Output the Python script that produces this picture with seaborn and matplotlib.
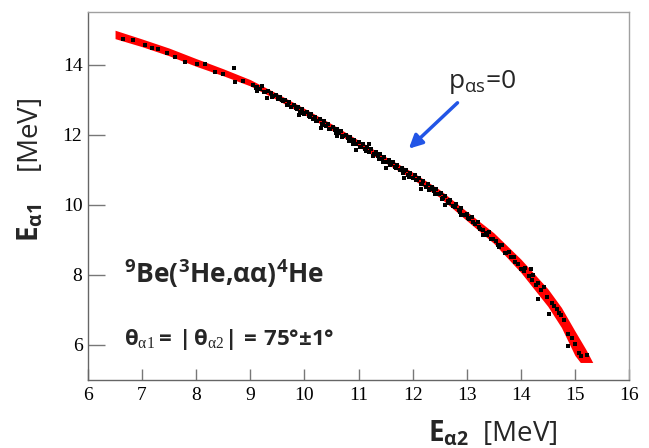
import numpy as np
import matplotlib
matplotlib.use("Agg")
import matplotlib.pyplot as plt
from matplotlib.ticker import MultipleLocator
import seaborn as sns

# simulated kinematic band (red): E_alpha2 grid with upper / lower edge of E_alpha1
band_e2 = [6.5, 7.0, 7.5, 8.0, 8.5, 9.0, 9.5, 10.0, 10.5, 11.0, 11.5, 12.0,
           12.5, 13.0, 13.5, 14.0, 14.5, 14.75, 15.0, 15.1, 15.2, 15.33]
band_top = [14.98, 14.73, 14.47, 14.17, 13.88, 13.57, 13.17, 12.75, 12.31, 11.84,
            11.37, 10.93, 10.43, 9.81, 9.20, 8.45, 7.60, 7.07, 6.40, 6.14, 5.88, 5.5]
band_bottom = [14.74, 14.51, 14.25, 13.95, 13.68, 13.39, 12.99, 12.57, 12.13, 11.66,
               11.19, 10.73, 10.21, 9.55, 8.90, 8.07, 7.10, 6.50, 5.70, 5.5, 5.5, 5.5]

# measured events (black dots)
dots_e2 = [6.65, 6.83, 7.06, 7.19, 7.30, 7.46, 7.60, 7.80, 8.02, 8.17, 8.35, 8.50,
           8.69, 8.72, 8.87, 9.05, 9.12, 9.13, 9.18, 9.22, 9.28, 9.30, 9.33, 9.38,
           9.42, 9.47, 9.52, 9.55, 9.60, 9.64, 9.68, 9.72, 9.76, 9.80, 9.84, 9.88,
           9.90, 9.92, 9.95, 10.00, 10.04, 10.08, 10.12, 10.16, 10.20, 10.24, 10.28,
           10.30, 10.32, 10.36, 10.40, 10.44, 10.48, 10.52, 10.56, 10.60, 10.60,
           10.64, 10.68, 10.72, 10.76, 10.80, 10.84, 10.88, 10.92, 10.95, 10.96,
           11.00, 11.04, 11.08, 11.12, 11.16, 11.20, 11.20, 11.24, 11.28, 11.32,
           11.36, 11.40, 11.44, 11.48, 11.50, 11.52, 11.56, 11.60, 11.64, 11.68,
           11.72, 11.76, 11.80, 11.84, 11.85, 11.88, 11.92, 11.96, 12.00, 12.04,
           12.08, 12.12, 12.15, 12.16, 12.20, 12.24, 12.28, 12.32, 12.36, 12.40,
           12.44, 12.48, 12.52, 12.56, 12.60, 12.60, 12.65, 12.70, 12.75, 12.80,
           12.85, 12.90, 12.90, 12.95, 13.00, 13.05, 13.10, 13.15, 13.20, 13.25,
           13.30, 13.30, 13.38, 13.42, 13.48, 13.55, 13.60, 13.65, 13.70, 13.78,
           13.82, 13.88, 13.95, 14.00, 14.05, 14.08, 14.15, 14.19, 14.20, 14.22,
           14.28, 14.31, 14.32, 14.38, 14.42, 14.48, 14.52, 14.58, 14.62, 14.66,
           14.70, 14.74, 14.80, 14.87, 14.88, 14.95, 15.00, 15.07, 15.12, 15.22,
           # second pass over the dense middle part
           9.10, 9.26, 9.40, 9.58, 9.70, 9.86, 9.98, 10.10, 10.22, 10.34, 10.46,
           10.58, 10.70, 10.82, 10.90, 11.02, 11.14, 11.26, 11.38, 11.46, 11.58,
           11.70, 11.82, 11.94, 12.06, 12.18, 12.30, 12.42, 12.54, 12.68, 12.78,
           12.88, 13.02, 13.12, 13.22, 13.35, 13.45, 13.58, 13.72, 13.90]
dots_e1 = [14.74, 14.69, 14.57, 14.46, 14.45, 14.34, 14.22, 14.06, 14.03, 14.03, 13.80, 13.74,
           13.91, 13.49, 13.54, 13.42, 13.36, 13.26, 13.30, 13.38, 13.22, 13.05, 13.24, 13.18,
           13.10, 13.14, 13.02, 13.08, 12.96, 13.00, 12.86, 12.92, 12.80, 12.84, 12.76, 12.78,
           12.55, 12.66, 12.72, 12.60, 12.64, 12.52, 12.58, 12.46, 12.50, 12.40, 12.44,
           12.20, 12.30, 12.38, 12.26, 12.30, 12.16, 12.22, 12.12, 12.16, 11.95,
           12.04, 12.10, 11.96, 12.00, 11.90, 11.94, 11.82, 11.86, 11.55, 11.74,
           11.80, 11.66, 11.72, 11.60, 11.64, 11.50, 11.72, 11.58, 11.44, 11.50,
           11.38, 11.44, 11.30, 11.36, 11.05, 11.22, 11.28, 11.16, 11.22, 11.08,
           11.14, 11.00, 11.06, 10.96, 10.75, 11.00, 10.86, 10.92, 10.76, 10.84,
           10.70, 10.76, 10.45, 10.60, 10.68, 10.52, 10.60, 10.46, 10.52, 10.38,
           10.44, 10.30, 10.34, 10.20, 10.26, 10.00, 10.10, 10.14, 9.96, 10.02,
           9.84, 9.90, 9.72, 9.70, 9.74, 9.58, 9.64, 9.44, 9.52, 9.30,
           9.28, 9.14, 9.14, 9.22, 9.02, 8.98, 8.80, 8.86, 8.62, 8.66,
           8.50, 8.52, 8.30, 8.17, 8.10, 8.20, 7.98, 8.17, 7.86, 8.00,
           7.70, 7.31, 7.78, 7.56, 7.64, 7.36, 6.89, 7.20, 7.10, 7.02,
           6.90, 6.86, 6.70, 5.97, 6.32, 6.20, 6.02, 5.77, 5.68, 5.71,
           13.33, 13.23, 13.08, 12.98, 12.84, 12.72, 12.62, 12.50, 12.40, 12.28, 12.16,
           12.04, 11.94, 11.82, 11.72, 11.64, 11.52, 11.40, 11.32, 11.22, 11.14,
           11.04, 10.92, 10.80, 10.70, 10.58, 10.42, 10.30, 10.16, 10.04, 9.94,
           9.80, 9.62, 9.50, 9.36, 9.18, 9.02, 8.86, 8.62, 8.36]

x_ticks = [6, 7, 8, 9, 10, 11, 12, 13, 14, 15, 16]
y_ticks = [6, 8, 10, 12, 14]

sns.set_theme(style="white")
plt.rcParams["font.family"] = ["Open Sans", "DejaVu Sans"]
plt.rcParams["mathtext.fontset"] = "custom"
plt.rcParams["mathtext.rm"] = "Open Sans"
plt.rcParams["mathtext.it"] = "Open Sans:italic"
plt.rcParams["mathtext.bf"] = "Open Sans:bold"
plt.rcParams["mathtext.tt"] = "Liberation Serif"

fig = plt.figure(figsize=(6.49, 4.48), dpi=100)
ax = fig.add_axes([0.1356, 0.1518, 0.8336, 0.8214])

ax.fill_between(band_e2, band_bottom, band_top, color="#ff0000", lw=0, zorder=2)
sns.scatterplot(x=dots_e2, y=dots_e1, ax=ax, color="black", marker="s", s=6,
                linewidth=0, zorder=3)

ax.set_xlim(6, 16)
ax.set_ylim(5, 15.5)
ax.set_xticks(x_ticks)
ax.set_yticks(y_ticks)
ax.xaxis.set_minor_locator(MultipleLocator(0.2))
ax.yaxis.set_minor_locator(MultipleLocator(0.5))
ax.tick_params(axis="both", which="both", direction="in", colors="#777777",
               labelcolor="black", labelsize=14, width=1)
ax.tick_params(axis="x", which="major", length=8, pad=5)
ax.tick_params(axis="x", which="minor", length=4)
ax.tick_params(axis="y", which="major", length=12, pad=4)
ax.tick_params(axis="y", which="minor", length=6.5)
for lab in ax.get_xticklabels() + ax.get_yticklabels():
    lab.set_family("Liberation Serif")
ax.tick_params(bottom=True, left=True)
for side in ["top", "right"]:
    ax.spines[side].set_color("#a0a0a0")
for side in ["left", "bottom"]:
    ax.spines[side].set_color("#666666")
for sp in ax.spines.values():
    sp.set_linewidth(1)

ax.set_xlabel(r"$\mathbf{E}_{\mathbf{\alpha2}}$  [MeV]", fontsize=20)
ax.xaxis.set_label_coords(0.749, -0.105)
ax.set_ylabel(r"$\mathbf{E}_{\mathbf{\alpha1}}$    [MeV]", fontsize=20)
ax.yaxis.set_label_coords(-0.078, 0.57)

ax.text(12.65, 13.34, r"$\mathrm{p}_{\mathrm{\alpha s}}$=0", fontsize=19,
        va="baseline", ha="left")
ax.annotate("", xy=(11.93, 11.6), xytext=(12.83, 12.91),
            arrowprops=dict(arrowstyle="-|>", color="#2255e6", lw=2.5,
                            mutation_scale=20, shrinkA=0, shrinkB=0))
ax.text(6.67, 7.78, r"$\mathbf{^9Be(^3He{,}\alpha\alpha)^4He}$", fontsize=19,
        va="baseline", ha="left")
ax.text(6.67, 6.0,
        r"$\mathbf{\theta}_{\mathtt{\alpha1}}\mathbf{{=}\,|\,\theta}_{\mathtt{\alpha2}}"
        r"\mathbf{|\,{=}\,75°{\pm}1°}$",
        fontsize=16, va="baseline", ha="left")

fig.savefig("out.png", dpi=100)
